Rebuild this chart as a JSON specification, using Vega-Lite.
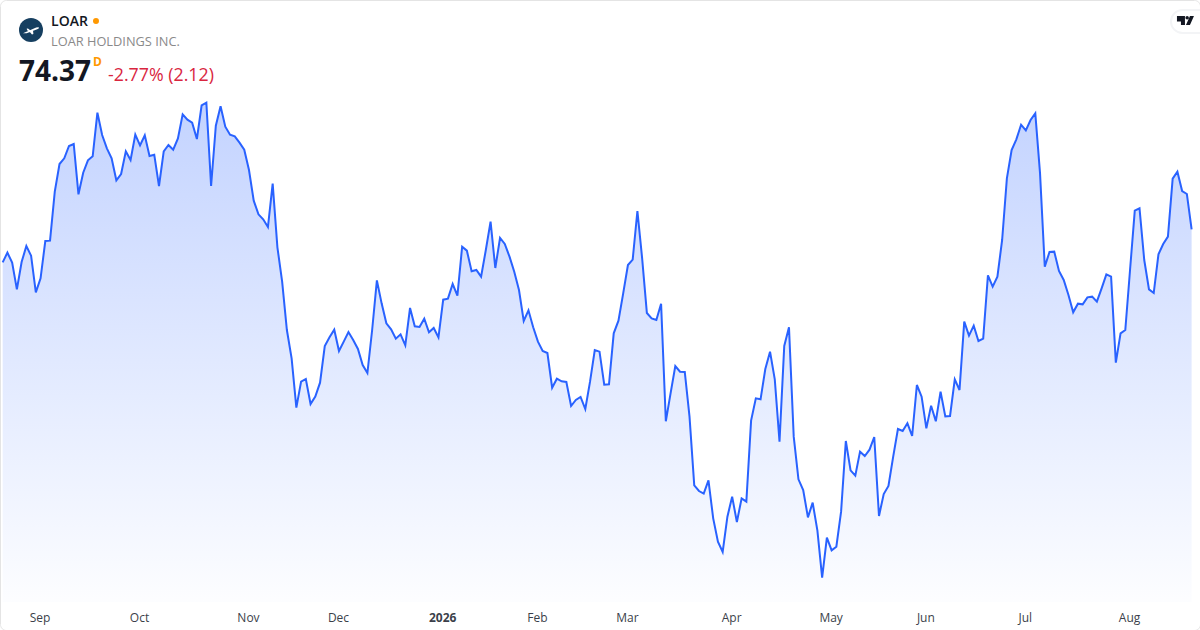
{
  "$schema": "https://vega.github.io/schema/vega-lite/v6.json",
  "width": 1200,
  "height": 630,
  "padding": 0,
  "autosize": "none",
  "background": "#ffffff",
  "view": {"stroke": "#e4e4e4", "cornerRadius": 6, "fill": null},
  "config": {"font": "Open Sans"},
  "datasets": {
    "closes": [
      {"bar":0,"close":72.39},{"bar":1,"close":72.97},{"bar":2,"close":72.37},{"bar":3,"close":70.77},{"bar":4,"close":72.41},{"bar":5,"close":73.37},{"bar":6,"close":72.79},{"bar":7,"close":70.59},{"bar":8,"close":71.43},{"bar":9,"close":73.67},
      {"bar":10,"close":73.69},{"bar":11,"close":76.63},{"bar":12,"close":78.29},{"bar":13,"close":78.63},{"bar":14,"close":79.37},{"bar":15,"close":79.49},{"bar":16,"close":76.47},{"bar":17,"close":77.77},{"bar":18,"close":78.51},{"bar":19,"close":78.75},
      {"bar":20,"close":81.37},{"bar":21,"close":80.03},{"bar":22,"close":79.23},{"bar":23,"close":78.63},{"bar":24,"close":77.31},{"bar":25,"close":77.69},{"bar":26,"close":79.05},{"bar":27,"close":78.53},{"bar":28,"close":80.05},{"bar":29,"close":79.41},
      {"bar":30,"close":80.01},{"bar":31,"close":78.77},{"bar":32,"close":78.85},{"bar":33,"close":76.97},{"bar":34,"close":79.05},{"bar":35,"close":79.43},{"bar":36,"close":79.15},{"bar":37,"close":79.83},{"bar":38,"close":81.27},{"bar":39,"close":80.95},
      {"bar":40,"close":80.77},{"bar":41,"close":79.79},{"bar":42,"close":81.81},{"bar":43,"close":81.97},{"bar":44,"close":76.97},{"bar":45,"close":80.59},{"bar":46,"close":81.75},{"bar":47,"close":80.53},{"bar":48,"close":80.05},{"bar":49,"close":79.95},
      {"bar":50,"close":79.57},{"bar":51,"close":79.15},{"bar":52,"close":77.93},{"bar":53,"close":76.09},{"bar":54,"close":75.27},{"bar":55,"close":74.97},{"bar":56,"close":74.51},{"bar":57,"close":77.11},{"bar":58,"close":73.29},{"bar":59,"close":71.23},
      {"bar":60,"close":68.33},{"bar":61,"close":66.63},{"bar":62,"close":63.67},{"bar":63,"close":65.23},{"bar":64,"close":65.39},{"bar":65,"close":63.89},{"bar":66,"close":64.33},{"bar":67,"close":65.17},{"bar":68,"close":67.37},{"bar":69,"close":67.89},
      {"bar":70,"close":68.35},{"bar":71,"close":67.07},{"bar":72,"close":67.63},{"bar":73,"close":68.21},{"bar":74,"close":67.73},{"bar":75,"close":67.19},{"bar":76,"close":66.23},{"bar":77,"close":65.75},{"bar":78,"close":68.33},{"bar":79,"close":71.31},
      {"bar":80,"close":69.93},{"bar":81,"close":68.73},{"bar":82,"close":68.37},{"bar":83,"close":67.81},{"bar":84,"close":68.07},{"bar":85,"close":67.41},{"bar":86,"close":69.65},{"bar":87,"close":68.55},{"bar":88,"close":68.51},{"bar":89,"close":69.01},
      {"bar":90,"close":68.19},{"bar":91,"close":68.45},{"bar":92,"close":67.89},{"bar":93,"close":70.15},{"bar":94,"close":70.21},{"bar":95,"close":71.09},{"bar":96,"close":70.39},{"bar":97,"close":73.33},{"bar":98,"close":73.09},{"bar":99,"close":71.85},
      {"bar":100,"close":71.93},{"bar":101,"close":71.53},{"bar":102,"close":73.13},{"bar":103,"close":74.83},{"bar":104,"close":72.05},{"bar":105,"close":73.85},{"bar":106,"close":73.49},{"bar":107,"close":72.73},{"bar":108,"close":71.83},{"bar":109,"close":70.73},
      {"bar":110,"close":68.87},{"bar":111,"close":69.51},{"bar":112,"close":68.49},{"bar":113,"close":67.63},{"bar":114,"close":67.07},{"bar":115,"close":66.95},{"bar":116,"close":64.87},{"bar":117,"close":65.41},{"bar":118,"close":65.25},{"bar":119,"close":65.21},
      {"bar":120,"close":63.77},{"bar":121,"close":64.13},{"bar":122,"close":64.31},{"bar":123,"close":63.59},{"bar":124,"close":65.23},{"bar":125,"close":67.13},{"bar":126,"close":67.03},{"bar":127,"close":65.05},{"bar":128,"close":65.07},{"bar":129,"close":68.13},
      {"bar":130,"close":68.89},{"bar":131,"close":70.53},{"bar":132,"close":72.23},{"bar":133,"close":72.55},{"bar":134,"close":75.47},{"bar":135,"close":72.63},{"bar":136,"close":69.35},{"bar":137,"close":69.03},{"bar":138,"close":68.93},{"bar":139,"close":69.91},
      {"bar":140,"close":62.85},{"bar":141,"close":64.53},{"bar":142,"close":66.17},{"bar":143,"close":65.83},{"bar":144,"close":65.81},{"bar":145,"close":63.13},{"bar":146,"close":59.01},{"bar":147,"close":58.67},{"bar":148,"close":58.51},{"bar":149,"close":59.31},
      {"bar":150,"close":57.03},{"bar":151,"close":55.63},{"bar":152,"close":55.01},{"bar":153,"close":57.13},{"bar":154,"close":58.33},{"bar":155,"close":56.81},{"bar":156,"close":58.23},{"bar":157,"close":58.03},{"bar":158,"close":62.89},{"bar":159,"close":64.23},
      {"bar":160,"close":64.17},{"bar":161,"close":65.99},{"bar":162,"close":67.03},{"bar":163,"close":65.37},{"bar":164,"close":61.63},{"bar":165,"close":67.37},{"bar":166,"close":68.49},{"bar":167,"close":61.93},{"bar":168,"close":59.37},{"bar":169,"close":58.73},
      {"bar":170,"close":57.09},{"bar":171,"close":57.97},{"bar":172,"close":56.29},{"bar":173,"close":53.47},{"bar":174,"close":55.87},{"bar":175,"close":55.11},{"bar":176,"close":55.33},{"bar":177,"close":57.43},{"bar":178,"close":61.67},{"bar":179,"close":59.91},
      {"bar":180,"close":59.59},{"bar":181,"close":61.03},{"bar":182,"close":60.77},{"bar":183,"close":61.15},{"bar":184,"close":61.91},{"bar":185,"close":57.17},{"bar":186,"close":58.49},{"bar":187,"close":58.97},{"bar":188,"close":60.73},{"bar":189,"close":62.39},
      {"bar":190,"close":62.27},{"bar":191,"close":62.73},{"bar":192,"close":61.97},{"bar":193,"close":65.03},{"bar":194,"close":64.33},{"bar":195,"close":62.43},{"bar":196,"close":63.79},{"bar":197,"close":62.85},{"bar":198,"close":64.63},{"bar":199,"close":63.15},
      {"bar":200,"close":63.17},{"bar":201,"close":65.37},{"bar":202,"close":64.73},{"bar":203,"close":68.83},{"bar":204,"close":67.99},{"bar":205,"close":68.59},{"bar":206,"close":67.67},{"bar":207,"close":67.81},{"bar":208,"close":71.61},{"bar":209,"close":70.93},
      {"bar":210,"close":71.53},{"bar":211,"close":73.73},{"bar":212,"close":77.43},{"bar":213,"close":79.13},{"bar":214,"close":79.77},{"bar":215,"close":80.65},{"bar":216,"close":80.31},{"bar":217,"close":80.93},{"bar":218,"close":81.33},{"bar":219,"close":77.73},
      {"bar":220,"close":72.13},{"bar":221,"close":73.01},{"bar":222,"close":73.03},{"bar":223,"close":71.87},{"bar":224,"close":71.33},{"bar":225,"close":70.43},{"bar":226,"close":69.39},{"bar":227,"close":69.91},{"bar":228,"close":69.87},{"bar":229,"close":70.29},
      {"bar":230,"close":70.33},{"bar":231,"close":70.03},{"bar":232,"close":70.83},{"bar":233,"close":71.67},{"bar":234,"close":71.53},{"bar":235,"close":66.37},{"bar":236,"close":68.13},{"bar":237,"close":68.33},{"bar":238,"close":71.93},{"bar":239,"close":75.49},
      {"bar":240,"close":75.63},{"bar":241,"close":72.53},{"bar":242,"close":70.77},{"bar":243,"close":70.55},{"bar":244,"close":72.87},{"bar":245,"close":73.49},{"bar":246,"close":73.93},{"bar":247,"close":77.41},{"bar":248,"close":77.83},{"bar":249,"close":76.67},
      {"bar":250,"close":76.49},{"bar":251,"close":74.37}
    ]
  },
  "layer": [
    {
      "data": {"name": "closes"},
      "mark": {
        "type": "area",
        "color": {
          "gradient": "linear",
          "x1": 0, "y1": 0, "x2": 0, "y2": 1,
          "stops": [
            {"offset": 0, "color": "rgba(41,98,255,0.28)"},
            {"offset": 1, "color": "rgba(41,98,255,0.01)"}
          ]
        }
      },
      "encoding": {
        "x": {
          "field": "bar",
          "type": "quantitative",
          "title": null,
          "scale": {"domain": [-0.564, 252.77], "nice": false, "zero": false},
          "axis": {
            "values": [8, 29, 52, 71, 93, 113, 132, 154, 175, 195, 216, 238],
            "labelExpr": "{'8':'Sep','29':'Oct','52':'Nov','71':'Dec','93':'2026','113':'Feb','132':'Mar','154':'Apr','175':'May','195':'Jun','216':'Jul','238':'Aug'}[datum.value]",
            "domain": false,
            "ticks": false,
            "grid": false,
            "title": null,
            "labelOverlap": false,
            "labelFlush": false,
            "labelAngle": 0,
            "labelFont": "Open Sans",
            "labelFontSize": 12,
            "labelColor": "#3b3f4a",
            "labelFontWeight": {"condition": {"test": "datum.value == 93", "value": "bold"}, "value": "normal"},
            "labelBaseline": "middle",
            "labelPadding": -13,
            "labelOffset": -1
          }
        },
        "y": {
          "field": "close",
          "type": "quantitative",
          "title": null,
          "stack": null,
          "scale": {"domain": [50.33, 88.13], "nice": false, "zero": false},
          "axis": null
        },
        "y2": {"datum": 52.01}
      }
    },
    {
      "data": {"name": "closes"},
      "mark": {"type": "line", "color": "#2962ff", "strokeWidth": 2, "interpolate": "linear"},
      "encoding": {
        "x": {"field": "bar", "type": "quantitative"},
        "y": {"field": "close", "type": "quantitative"}
      }
    },
    {
      "data": {"values": [{"name": "pill"}]},
      "mark": {"type": "point", "filled": true, "opacity": 1, "fill": "#ffffff", "stroke": "#f3f4f6", "strokeWidth": 2, "size": 900, "shape": "M1.1 -.767 H-.2 A.767 .767 0 0 0 -.2 .767 H1.1 Z"},
      "encoding": {
        "x": {"datum": 249.7, "type": "quantitative"},
        "y": {"datum": 86.84, "type": "quantitative"}
      }
    },
    {
      "data": {"values": [{"name": "tv"}]},
      "mark": {"type": "point", "filled": true, "opacity": 1, "fill": "#131722", "strokeWidth": 0, "size": 289, "shape": "M-1 -.53 L-.06 -.53 L-.06 .53 L-.53 .53 L-.53 .12 L-1 .12 Z M0 -.32 A.2 .2 0 1 0 .4 -.32 A.2 .2 0 1 0 0 -.32 Z M.53 -.53 L1 -.53 L.53 .53 L.06 .53 Z"},
      "encoding": {
        "x": {"datum": 249.7, "type": "quantitative"},
        "y": {"datum": 86.9, "type": "quantitative"}
      }
    },
    {
      "data": {"values": [{"name": "logo"}]},
      "mark": {"type": "point", "filled": true, "opacity": 1, "fill": "#163f60", "strokeWidth": 0, "size": 576, "shape": "circle"},
      "encoding": {
        "x": {"datum": 5.98, "type": "quantitative"},
        "y": {"datum": 86.33, "type": "quantitative"}
      }
    },
    {
      "data": {"values": [{"name": "plane"}]},
      "mark": {"type": "point", "filled": true, "opacity": 1, "fill": "#ffffff", "strokeWidth": 0, "size": 256, "shape": "M-1 .42 L.65 -.3 Q1 -.42 1 -.28 Q1 -.15 .7 -.05 L-.55 .42 Z M-.2 .2 L.25 .05 L.3 .5 L.12 .55 Z M-.55 -.15 L-.38 -.2 L-.1 .02 L-.4 .12 Z"},
      "encoding": {
        "x": {"datum": 5.98, "type": "quantitative"},
        "y": {"datum": 86.33, "type": "quantitative"}
      }
    },
    {
      "data": {"values": [{"name": "session"}]},
      "mark": {"type": "point", "filled": true, "opacity": 1, "fill": "#ff9800", "strokeWidth": 0, "size": 36, "shape": "circle"},
      "encoding": {
        "x": {"datum": 19.7, "type": "quantitative"},
        "y": {"datum": 86.87, "type": "quantitative"}
      }
    },
    {
      "data": {"values": [{"label": "LOAR"}]},
      "mark": {"type": "text", "align": "left", "baseline": "alphabetic", "font": "Open Sans", "fontSize": 14, "fontWeight": 600, "color": "#131722"},
      "encoding": {
        "x": {"datum": 10.21, "type": "quantitative"},
        "y": {"datum": 86.57, "type": "quantitative"},
        "text": {"field": "label"}
      }
    },
    {
      "data": {"values": [{"label": "LOAR HOLDINGS INC."}]},
      "mark": {"type": "text", "align": "left", "baseline": "alphabetic", "font": "Open Sans", "fontSize": 12.8, "color": "#8a8a8a"},
      "encoding": {
        "x": {"datum": 10.21, "type": "quantitative"},
        "y": {"datum": 85.37, "type": "quantitative"},
        "text": {"field": "label"}
      }
    },
    {
      "data": {"values": [{"label": "74.37"}]},
      "mark": {"type": "text", "align": "left", "baseline": "alphabetic", "font": "Open Sans", "fontSize": 28, "fontWeight": "bold", "color": "#131722"},
      "encoding": {
        "x": {"datum": 3.45, "type": "quantitative"},
        "y": {"datum": 83.27, "type": "quantitative"},
        "text": {"field": "label"}
      }
    },
    {
      "data": {"values": [{"label": "D"}]},
      "mark": {"type": "text", "align": "left", "baseline": "alphabetic", "font": "Open Sans", "fontSize": 12, "fontWeight": "bold", "color": "#ff9800"},
      "encoding": {
        "x": {"datum": 19.07, "type": "quantitative"},
        "y": {"datum": 84.17, "type": "quantitative"},
        "text": {"field": "label"}
      }
    },
    {
      "data": {"values": [{"label": "-2.77% (2.12)"}]},
      "mark": {"type": "text", "align": "left", "baseline": "alphabetic", "font": "Open Sans", "fontSize": 17.8, "color": "#d9263f"},
      "encoding": {
        "x": {"datum": 22.24, "type": "quantitative"},
        "y": {"datum": 83.27, "type": "quantitative"},
        "text": {"field": "label"}
      }
    }
  ]
}
